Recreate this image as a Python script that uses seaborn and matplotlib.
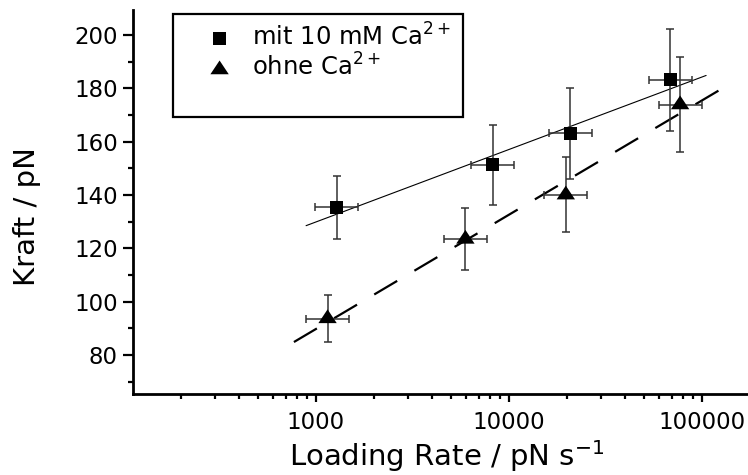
import numpy as np
import pandas as pd
import matplotlib
matplotlib.use("Agg")
import matplotlib.pyplot as plt
import matplotlib.ticker as mticker
from matplotlib.patches import Rectangle
import seaborn as sns

# ---- data ----
sq_x = [1280, 8260, 20800, 68500]
sq_y = [135.4, 151.4, 163.2, 183.2]
sq_yerr = [11.8, 15.0, 17.0, 19.0]
sq_xerr_lo = [290, 1870, 4700, 15500]
sq_xerr_hi = [375, 2410, 6070, 20000]

tri_x = [1150, 5950, 19700, 77000]
tri_y = [93.7, 123.5, 140.1, 173.9]
tri_yerr = [8.8, 11.6, 14.0, 17.7]
tri_xerr_lo = [260, 1345, 4450, 17400]
tri_xerr_hi = [336, 1740, 5750, 22450]

fit_range_sq = [890, 105000]
fit_range_tri = [770, 122000]

x_ticks = [1000, 10000, 100000]
x_ticklabels = ["1000", "10000", "100000"]
y_ticks = [80, 100, 120, 140, 160, 180, 200]

label_sq = "mit 10 mM Ca$^{2+}$"
label_tri = "ohne Ca$^{2+}$"

# ---- style ----
sns.set_style("ticks")
plt.rcParams["font.family"] = ["DejaVu Sans"]
plt.rcParams["mathtext.fontset"] = "dejavusans"
for key in ["text.color", "axes.labelcolor", "xtick.color", "ytick.color",
            "xtick.labelcolor", "ytick.labelcolor"]:
    plt.rcParams[key] = "black"

fig = plt.figure(figsize=(7.48, 4.75), dpi=100)
ax = fig.add_axes([133 / 748, 1 - 394 / 475, 1 - 133 / 748, (394 - 10) / 475])

tri_marker = [(-1, -0.5), (1, -0.5), (0, 1.0)]

# fit lines (linear in log10 x)
for xs, ys, rng, dashed, lw in [(sq_x, sq_y, fit_range_sq, False, 0.8),
                                (tri_x, tri_y, fit_range_tri, True, 1.6)]:
    k, d = np.polyfit(np.log10(xs), ys, 1)
    xr = np.array(rng, dtype=float)
    yr = k * np.log10(xr) + d
    sns.lineplot(x=xr, y=yr, ax=ax, color="black", lw=lw, zorder=1,
                 estimator=None, sort=False)
    if dashed:
        ax.lines[-1].set_dashes((12, 9))

# error bars
for xs, ys, ye, xl, xh in [(sq_x, sq_y, sq_yerr, sq_xerr_lo, sq_xerr_hi),
                           (tri_x, tri_y, tri_yerr, tri_xerr_lo, tri_xerr_hi)]:
    ax.errorbar(xs, ys, yerr=ye, xerr=[xl, xh], fmt="none", ecolor="#333333",
                elinewidth=1.1, capsize=3.0, capthick=1.1, zorder=2)

# markers
df_sq = pd.DataFrame({"x": sq_x, "y": sq_y})
df_tri = pd.DataFrame({"x": tri_x, "y": tri_y})
sns.scatterplot(data=df_sq, x="x", y="y", ax=ax, marker="s", s=90,
                color="black", edgecolor="none", linewidth=0, zorder=3,
                label=label_sq)
sns.scatterplot(data=df_tri, x="x", y="y", ax=ax, marker=tri_marker, s=175,
                color="black", edgecolor="none", linewidth=0, zorder=3,
                label=label_tri)

ax.set_xscale("log")
ax.set_xlim(113, 173000)
ax.set_ylim(65.4, 209.4)

ax.xaxis.set_major_locator(mticker.FixedLocator(x_ticks))
ax.xaxis.set_major_formatter(mticker.FixedFormatter(x_ticklabels))
ax.xaxis.set_minor_locator(mticker.LogLocator(base=10, subs=np.arange(2, 10)))
ax.xaxis.set_minor_formatter(mticker.NullFormatter())
ax.yaxis.set_major_locator(mticker.FixedLocator(y_ticks))
ax.yaxis.set_minor_locator(mticker.MultipleLocator(10))

for side in ["top", "right"]:
    ax.spines[side].set_visible(False)
for side in ["left", "bottom"]:
    ax.spines[side].set_linewidth(2.0)
    ax.spines[side].set_color("black")

ax.tick_params(axis="both", which="both", direction="out", colors="black",
               labelcolor="black", width=1.6, labelsize=16.5)
ax.tick_params(axis="y", which="major", length=7, pad=4)
ax.tick_params(axis="y", which="minor", length=3.5)
ax.tick_params(axis="x", which="major", length=6, pad=6)
ax.tick_params(axis="x", which="minor", length=3.5)

ax.set_xlabel("Loading Rate / pN s$^{-1}$", fontsize=21, color="black")
ax.set_ylabel("Kraft / pN", fontsize=21, color="black")
ax.xaxis.set_label_coords((447 - 133) / 615, (394 - 438) / 384)
ax.yaxis.set_label_coords((41 - 133) / 615, (394 - 217) / 384)

# legend
leg = ax.legend(loc="upper left", bbox_to_anchor=(205 / 748, 1 - 23 / 475),
                bbox_transform=fig.transFigure, frameon=False, fontsize=17.5,
                handletextpad=0.75, labelspacing=0.15, borderpad=0,
                handlelength=1.2, borderaxespad=0)
for t in leg.get_texts():
    t.set_color("black")
fig.patches.append(Rectangle((173 / 748, 1 - 117 / 475), (463 - 173) / 748,
                             (117 - 14) / 475, transform=fig.transFigure,
                             fill=False, edgecolor="black", lw=1.6, zorder=5))

fig.savefig("out.png", dpi=100)
